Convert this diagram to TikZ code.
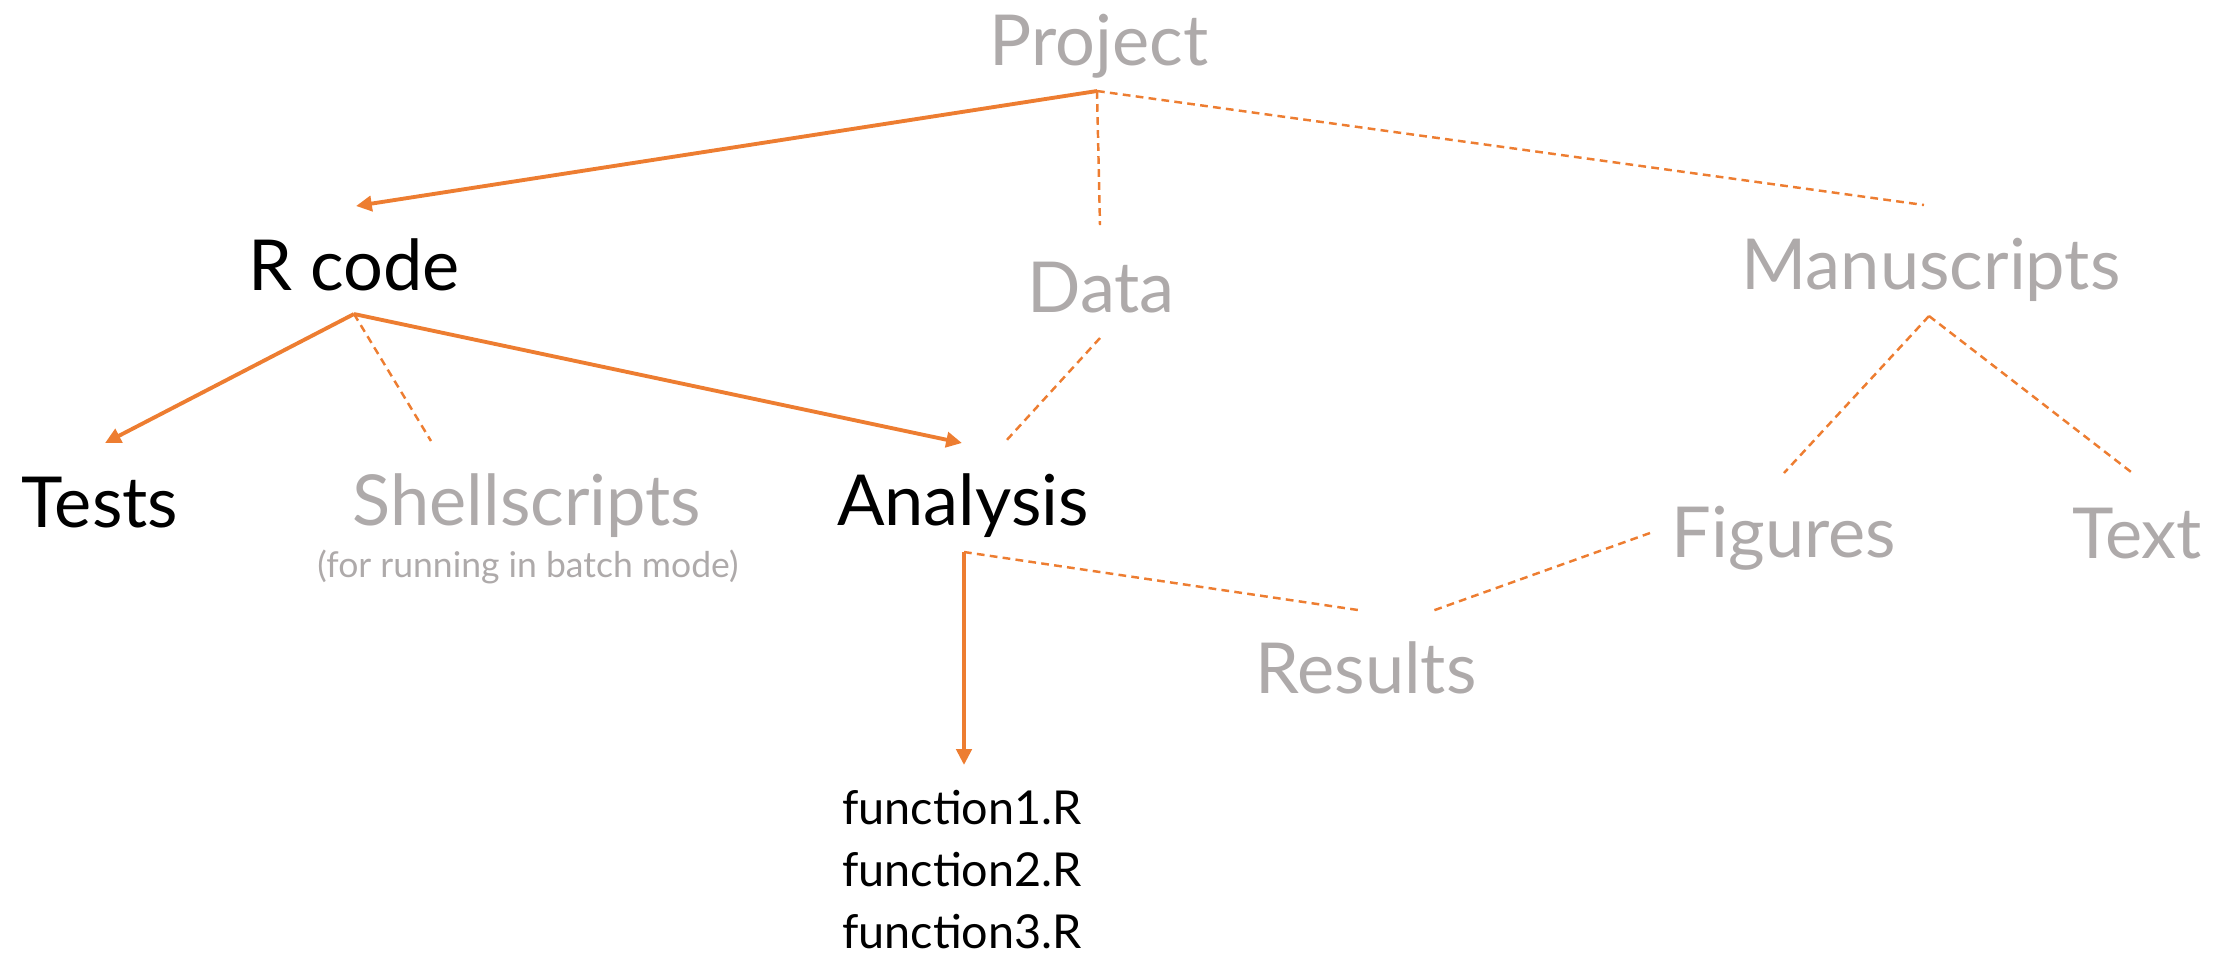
\documentclass[tikz,border=0pt]{standalone}
\usepackage{fontspec}
\setmainfont{Lato}
\definecolor{treeorange}{RGB}{237,125,49}
\definecolor{treegray}{RGB}{174,170,170}
\usetikzlibrary{arrows.meta}
\tikzset{
  dirlabel/.style={font=\fontsize{20}{20}\selectfont,anchor=base,inner sep=0pt},
  used/.style={dirlabel,text=black},
  unused/.style={dirlabel,text=treegray},
  link/.style={draw=treeorange,line width=1.1pt,-{Triangle[width=4.3pt,length=4.5pt]}},
  weaklink/.style={draw=treeorange,line width=0.7pt,dash pattern=on 2.2pt off 1.5pt},
}

\begin{document}
\begin{tikzpicture}[x=0.01cm,y=-0.01cm]
  \useasboundingbox (0,0) rectangle (2232,959);
  % folder names
  \node[unused] (project) at (1099,65) {Project};
  \node[used] (rcode) at (354,290) {R code};
  \node[unused] (data) at (1101,312) {Data};
  \node[unused] (manuscripts) at (1931,289) {Manuscripts};
  \node[used] (tests) at (100,527) {Tests};
  \node[unused] (shellscripts) at (527,525) {Shellscripts};
  \node[unused,font=\fontsize{10.1}{10.1}\selectfont] (batchnote) at (528,577) {(for running in batch mode)};
  \node[used] (analysis) at (963,525) {Analysis};
  \node[unused] (figures) at (1784,557) {Figures};
  \node[unused] (textdir) at (2137,558) {Text};
  \node[unused] (results) at (1366,693) {Results};
  \foreach \i in {1,2,3}
    \node[used,font=\fontsize{13.3}{13.3}\selectfont] (fn\i) at (962,{762+62*\i}) {function\i.R};

  % line ends
  \coordinate (project-out) at (1097,91);
  \coordinate (rcode-in) at (356,206);
  \coordinate (rcode-out) at (354,314);
  \coordinate (data-in) at (1100,225);
  \coordinate (data-out) at (1100,338);
  \coordinate (manuscripts-in) at (1924,205);
  \coordinate (manuscripts-out) at (1929,316);
  \coordinate (tests-in) at (105,443);
  \coordinate (shellscripts-in) at (431,441);
  \coordinate (analysis-in) at (962,443);
  \coordinate (analysis-side) at (1005,442);
  \coordinate (analysis-out) at (964,552);
  \coordinate (results-left) at (1358,610);
  \coordinate (results-right) at (1432,611);
  \coordinate (figures-in) at (1784,473);
  \coordinate (figures-side) at (1650,533);
  \coordinate (textdir-in) at (2135,475);
  \coordinate (fn-in) at (964,765);

  % connectors
  \draw[link] (project-out) -- (rcode-in);
  \draw[weaklink] (project-out) -- (data-in);
  \draw[weaklink] (project-out) -- (manuscripts-in);
  \draw[link] (rcode-out) -- (tests-in);
  \draw[weaklink] (rcode-out) -- (shellscripts-in);
  \draw[link] (rcode-out) -- (analysis-in);
  \draw[weaklink] (data-out) -- (analysis-side);
  \draw[weaklink] (manuscripts-out) -- (figures-in);
  \draw[weaklink] (manuscripts-out) -- (textdir-in);
  \draw[weaklink] (analysis-out) -- (results-left);
  \draw[weaklink] (figures-side) -- (results-right);
  \draw[link] (analysis-out) -- (fn-in);
\end{tikzpicture}
\end{document}
